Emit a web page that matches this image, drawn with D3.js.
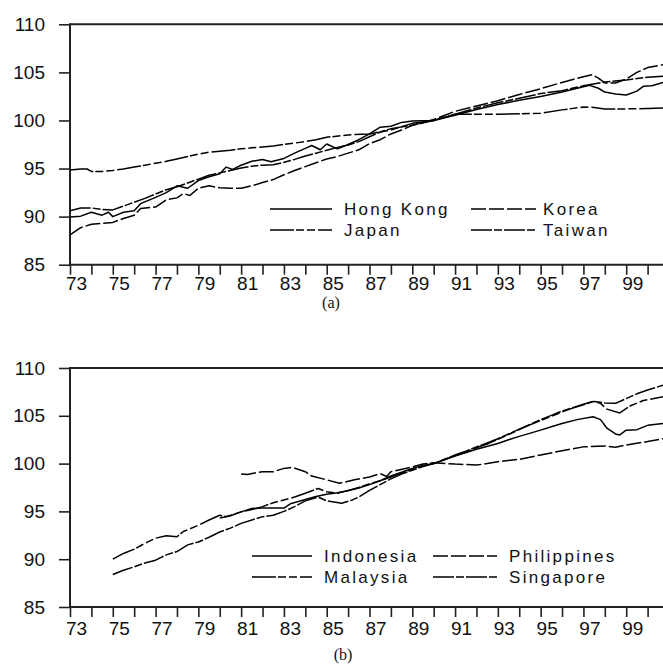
<!DOCTYPE html>
<html><head><meta charset="utf-8">
<script src="https://cdn.jsdelivr.net/npm/d3@7/dist/d3.min.js"></script>
<style>body{margin:0;background:#fff}svg{display:block}</style>
</head><body><svg id="c" width="663" height="664"></svg>
<script>
// ---------- data ----------
const xTickYears = [73,74,75,76,77,78,79,80,81,82,83,84,85,86,87,88,89,90,91,92,93,94,95,96,97,98,99,100];
const xLabelYears = [73,75,77,79,81,83,85,87,89,91,93,95,97,99];
const yTicks = [85,90,95,100,105,110];

const hongKong = [[73.0,89.95],[73.5,90.05],[74.0,90.45],[74.5,90.15],[74.8,90.45],[75.0,90.0],[75.5,90.45],[76.0,90.6],[76.3,91.35],[77.0,92.0],[77.5,92.5],[78.0,93.2],[78.5,92.95],[79.0,93.75],[79.5,94.15],[80.0,94.45],[80.3,95.15],[80.6,94.9],[81.0,95.35],[81.5,95.75],[82.0,95.95],[82.4,95.7],[83.0,96.05],[83.5,96.6],[84.0,97.1],[84.3,97.4],[84.7,96.95],[85.0,97.55],[85.5,97.05],[86.0,97.5],[86.5,98.0],[87.0,98.6],[87.5,99.3],[88.0,99.4],[88.5,99.8],[89.0,99.95],[90.0,100.0],[91.0,100.55],[92.0,101.15],[93.0,101.65],[94.0,102.1],[95.0,102.5],[96.0,102.95],[97.0,103.5],[97.3,103.65],[97.7,103.35],[98.0,102.95],[98.5,102.75],[99.0,102.65],[99.5,103.05],[99.8,103.55],[100.2,103.6],[100.72,103.95]];
const korea = [[73.0,88.1],[73.5,88.85],[74.0,89.2],[74.5,89.3],[75.0,89.4],[75.5,89.8],[76.0,90.15],[76.3,90.85],[77.0,91.0],[77.5,91.75],[78.0,91.95],[78.3,92.4],[78.6,92.2],[79.0,92.95],[79.5,93.2],[80.0,93.0],[80.5,92.95],[81.0,92.95],[81.5,93.2],[82.0,93.55],[82.5,93.85],[83.0,94.35],[83.5,94.8],[84.0,95.2],[84.5,95.6],[85.0,96.0],[85.5,96.25],[86.0,96.6],[86.5,96.95],[87.0,97.6],[87.5,98.0],[88.0,98.6],[88.5,99.0],[89.0,99.5],[90.0,100.1],[91.0,100.95],[92.0,101.5],[93.0,102.05],[94.0,102.7],[95.0,103.3],[96.0,103.95],[97.0,104.55],[97.4,104.75],[97.7,104.4],[98.0,103.9],[98.5,103.9],[99.0,104.3],[99.5,105.0],[100.0,105.5],[100.72,105.8]];
const japan = [[73.0,94.85],[73.5,94.95],[73.8,94.95],[74.0,94.7],[74.5,94.7],[75.0,94.8],[75.5,94.95],[76.0,95.15],[76.5,95.35],[77.0,95.55],[77.5,95.75],[78.0,96.0],[78.5,96.25],[79.0,96.5],[79.5,96.7],[80.0,96.8],[80.5,96.9],[81.0,97.05],[81.5,97.15],[82.0,97.25],[82.5,97.35],[83.0,97.5],[83.5,97.65],[84.0,97.8],[84.5,98.0],[85.0,98.25],[86.0,98.5],[87.0,98.6],[88.0,99.0],[89.0,99.7],[90.0,100.0],[91.0,100.65],[92.0,100.65],[93.0,100.65],[94.0,100.7],[95.0,100.75],[96.0,101.1],[97.0,101.4],[97.5,101.35],[98.0,101.2],[99.0,101.2],[100.0,101.25],[100.72,101.3]];
const taiwan = [[73.0,90.6],[73.5,90.9],[74.0,90.9],[74.5,90.75],[75.0,90.7],[75.5,91.1],[76.0,91.5],[76.5,91.9],[77.0,92.35],[77.5,92.8],[78.0,93.1],[78.5,93.5],[79.0,93.9],[79.5,94.3],[80.0,94.55],[80.5,94.8],[81.0,95.05],[81.5,95.25],[82.0,95.35],[82.5,95.4],[83.0,95.65],[83.5,95.95],[84.0,96.3],[84.5,96.6],[85.0,96.9],[85.5,97.2],[86.0,97.45],[86.5,97.8],[87.0,98.3],[87.5,98.8],[88.0,99.15],[89.0,99.5],[90.0,100.0],[91.0,100.65],[92.0,101.3],[93.0,101.85],[94.0,102.3],[95.0,102.8],[96.0,103.1],[97.0,103.6],[98.0,104.0],[99.0,104.2],[100.0,104.5],[100.72,104.6]];

const indonesia = [[80.0,94.3],[80.5,94.55],[81.0,94.95],[81.5,95.3],[82.0,95.35],[82.5,95.35],[83.0,95.35],[83.3,95.8],[84.0,96.25],[84.5,96.55],[85.0,96.8],[85.5,96.95],[86.0,97.15],[86.5,97.45],[87.0,97.8],[87.5,98.2],[88.0,98.7],[88.5,99.1],[89.0,99.5],[89.5,99.8],[90.0,100.0],[91.0,100.8],[92.0,101.5],[93.0,102.1],[93.5,102.5],[94.0,102.85],[95.0,103.5],[95.5,103.85],[96.0,104.2],[96.7,104.6],[97.45,104.9],[97.8,104.6],[98.1,103.7],[98.5,103.1],[98.7,103.0],[99.0,103.5],[99.5,103.55],[100.0,104.0],[100.72,104.2]];
const philippines = [[81.0,98.9],[81.3,98.85],[81.7,99.05],[82.0,99.15],[82.5,99.15],[83.0,99.5],[83.4,99.6],[84.0,99.15],[84.3,98.7],[85.0,98.3],[85.6,97.95],[86.3,98.3],[87.0,98.6],[87.5,98.95],[87.8,98.65],[88.0,99.15],[89.0,99.65],[89.5,99.95],[90.0,100.1],[91.0,99.95],[92.0,99.85],[92.5,100.0],[93.0,100.2],[94.0,100.45],[95.0,100.9],[96.0,101.35],[97.0,101.75],[98.0,101.85],[98.5,101.7],[99.0,101.95],[100.0,102.3],[100.72,102.6]];
const malaysia = [[75.0,90.0],[75.5,90.6],[76.0,91.05],[76.5,91.65],[77.0,92.2],[77.5,92.45],[78.0,92.35],[78.3,92.9],[79.0,93.55],[79.5,94.1],[80.0,94.6],[80.3,94.45],[81.0,94.95],[81.5,95.2],[82.0,95.5],[82.5,95.9],[83.0,96.2],[83.5,96.5],[84.0,96.9],[84.6,97.4],[85.0,97.05],[85.5,96.9],[86.0,97.2],[86.5,97.5],[87.0,97.9],[87.5,98.2],[88.0,98.6],[88.5,99.0],[89.0,99.4],[89.5,99.75],[90.0,100.0],[90.5,100.4],[91.0,100.85],[91.5,101.2],[92.0,101.65],[92.5,102.05],[93.0,102.55],[93.5,103.05],[94.0,103.55],[94.5,104.05],[95.0,104.5],[95.5,104.95],[96.0,105.4],[96.5,105.8],[97.0,106.15],[97.45,106.5],[97.8,106.3],[98.1,105.7],[98.7,105.3],[99.2,106.05],[99.8,106.6],[100.72,107.0]];
const singapore = [[75.0,88.4],[75.5,88.85],[76.0,89.2],[76.5,89.6],[77.0,89.9],[77.5,90.45],[78.0,90.8],[78.5,91.5],[79.0,91.8],[79.5,92.3],[80.0,92.85],[80.5,93.25],[81.0,93.75],[81.5,94.1],[82.0,94.45],[82.5,94.6],[83.0,95.0],[83.5,95.5],[84.0,96.1],[84.6,96.5],[85.0,96.1],[85.7,95.85],[86.2,96.2],[86.5,96.5],[87.0,97.2],[87.5,97.8],[88.0,98.4],[88.5,98.9],[89.0,99.3],[89.5,99.7],[90.0,100.0],[90.5,100.45],[91.0,100.9],[91.5,101.3],[92.0,101.75],[92.5,102.15],[93.0,102.6],[93.5,103.1],[94.0,103.6],[94.5,104.1],[95.0,104.6],[95.5,105.05],[96.0,105.5],[96.5,105.85],[97.0,106.2],[97.45,106.5],[98.0,106.35],[98.5,106.3],[99.0,106.8],[99.5,107.3],[100.0,107.7],[100.72,108.2]];

// ---------- styles ----------
const DASH = {solid:null, long:"15,3", longShort2:"24,2,8,3,8,3", longShort:"21,2,8,2"};
const FONT = "'Liberation Sans', Arial, sans-serif";

const panels = [
  {top:24.3, bottom:264.7, caption:"(a)", capX:331, capY:308, lblOff:25,
   series:[
     {name:"Hong Kong", data:hongKong, dash:DASH.solid},
     {name:"Korea", data:korea, dash:DASH.long},
     {name:"Japan", data:japan, dash:DASH.longShort2},
     {name:"Taiwan", data:taiwan, dash:DASH.longShort}],
   legend:{cols:[270,471], len:[62,65], txt:[344,543], rows:[209,230]}},
  {top:368, bottom:607, caption:"(b)", capX:343, capY:660, lblOff:28,
   series:[
     {name:"Indonesia", data:indonesia, dash:DASH.solid},
     {name:"Philippines", data:philippines, dash:DASH.long},
     {name:"Malaysia", data:malaysia, dash:DASH.longShort2},
     {name:"Singapore", data:singapore, dash:DASH.longShort}],
   legend:{cols:[252,433], len:[60,64], txt:[324,509], rows:[556,577]}}
];

const svg = d3.select("#c");
const left = 70, right = 663;
const x = d3.scaleLinear().domain([73, 100.72]).range([left, right]);

panels.forEach((p, pi) => {
  const y = d3.scaleLinear().domain([85, 110]).range([p.bottom, p.top]);
  const g = svg.append("g");
  const clipId = "clip" + pi;
  svg.append("clipPath").attr("id", clipId).append("rect")
    .attr("x", left).attr("y", p.top).attr("width", right - left).attr("height", p.bottom - p.top);

  // y axis
  const ya = g.append("g").attr("transform", `translate(${left},0)`)
    .call(d3.axisLeft(y).tickValues(yTicks).tickSize(11).tickSizeOuter(0).tickPadding(14).tickFormat(d3.format("d")));
  ya.select(".domain").remove();
  ya.selectAll(".tick line").attr("stroke", "#222").attr("stroke-width", 1.6);
  ya.selectAll(".tick text").attr("font-family", FONT).attr("font-size", 19).attr("fill", "#111");

  // x axis ticks
  const xa = g.append("g").attr("transform", `translate(0,${p.bottom})`)
    .call(d3.axisBottom(x).tickValues(xTickYears).tickSize(10).tickSizeOuter(0).tickFormat(""));
  xa.select(".domain").remove();
  xa.selectAll(".tick line").attr("stroke", "#222").attr("stroke-width", 1.6);

  // x labels
  g.selectAll(".xl").data(xLabelYears).enter().append("text")
    .attr("x", d => x(d) + 6.5).attr("y", p.bottom + p.lblOff)
    .attr("text-anchor", "middle").attr("font-family", FONT).attr("font-size", 19).attr("fill", "#111")
    .text(d => d);

  // frame lines: left, bottom, top
  g.append("line").attr("x1", left).attr("x2", left).attr("y1", p.top - 1).attr("y2", p.bottom + 1)
    .attr("stroke", "#222").attr("stroke-width", 2);
  g.append("line").attr("x1", left).attr("x2", right).attr("y1", p.bottom).attr("y2", p.bottom)
    .attr("stroke", "#222").attr("stroke-width", 2);
  g.append("line").attr("x1", left).attr("x2", right).attr("y1", p.top).attr("y2", p.top)
    .attr("stroke", "#222").attr("stroke-width", 2);

  // lines
  const line = d3.line().x(d => x(d[0])).y(d => y(d[1]));
  const lg = g.append("g").attr("clip-path", `url(#${clipId})`);
  p.series.forEach(s => {
    lg.append("path").attr("d", line(s.data)).attr("fill", "none")
      .attr("stroke", "#000").attr("stroke-width", 1.5).attr("stroke-linejoin", "round")
      .attr("stroke-dasharray", s.dash);
  });

  // legend: row-major 2x2
  p.series.forEach((s, i) => {
    const c = i % 2, r = Math.floor(i / 2);
    const L = p.legend;
    g.append("line").attr("x1", L.cols[c]).attr("x2", L.cols[c] + L.len[c])
      .attr("y1", L.rows[r]).attr("y2", L.rows[r])
      .attr("stroke", "#000").attr("stroke-width", 1.6).attr("stroke-dasharray", s.dash);
    g.append("text").attr("x", L.txt[c]).attr("y", L.rows[r] + 6)
      .attr("font-family", FONT).attr("font-size", 17).attr("letter-spacing", "2.3px").attr("fill", "#111")
      .text(s.name);
  });

  // caption
  g.append("text").attr("x", p.capX).attr("y", p.capY).attr("text-anchor", "middle")
    .attr("font-family", "'Liberation Serif', 'Times New Roman', serif").attr("font-size", 16).attr("fill", "#111")
    .text(p.caption);
});
</script></body></html>
